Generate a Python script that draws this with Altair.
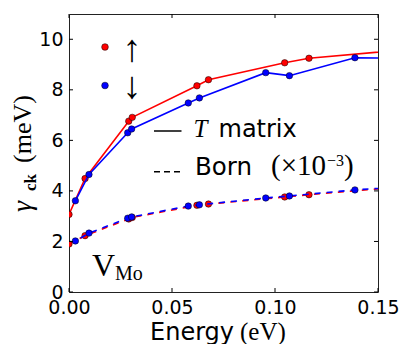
import altair as alt
import pandas as pd

# ---- data ----
energy_up = [0.0, 0.0078, 0.0290, 0.0307, 0.0621, 0.0677, 0.1047, 0.1165, 0.165]
gamma_t_up = [3.07, 4.49, 6.76, 6.91, 8.16, 8.40, 9.07, 9.25, 9.60]
gamma_born_up = [1.90, 2.23, 2.89, 2.95, 3.43, 3.48, 3.76, 3.85, 4.18]

energy_dn = [0.0031, 0.0097, 0.0285, 0.0304, 0.0579, 0.0633, 0.0955, 0.1070, 0.1388, 0.160]
gamma_t_dn = [3.61, 4.65, 6.30, 6.45, 7.48, 7.68, 8.68, 8.56, 9.27, 9.25]
gamma_born_dn = [2.02, 2.33, 2.92, 2.97, 3.40, 3.45, 3.72, 3.80, 4.04, 4.15]

x_ticks = [0.0, 0.05, 0.10, 0.15]
y_ticks = [0, 2, 4, 6, 8, 10]

W, H = 309, 278
RED = "#ff0000"
BLUE = "#0000ff"
SERIF = "Liberation Serif"
SANS = "DejaVu Sans"

up = pd.DataFrame({"E": energy_up, "T": gamma_t_up, "B": gamma_born_up})
dn = pd.DataFrame({"E": energy_dn, "T": gamma_t_dn, "B": gamma_born_dn})

xs = alt.Scale(domain=[0, 0.15], nice=False, zero=False)
ys = alt.Scale(domain=[0, 11], nice=False, zero=False)

xax = alt.Axis(values=x_ticks, format=".2f", title=None, grid=False, domain=False,
               ticks=False, labelFontSize=19, labelFont=SANS, labelColor="black",
               labelPadding=6, labelFlush=False)
yax = alt.Axis(values=y_ticks, format="d", title=None, grid=False, domain=False,
               ticks=False, labelFontSize=19, labelFont=SANS, labelColor="black",
               labelPadding=6)

X = lambda f: alt.X(f, type="quantitative", scale=xs, axis=xax)
Y = lambda f: alt.Y(f, type="quantitative", scale=ys, axis=yax)


def series(df, col, color, dash=None, offset=0):
    kw = {}
    if dash:
        kw["strokeDash"] = dash
        kw["strokeDashOffset"] = offset
    line = alt.Chart(df).mark_line(color=color, strokeWidth=1.6, clip=True, **kw).encode(
        x=X("E"), y=Y(col))
    pts = alt.Chart(df).mark_point(filled=True, fill=color, stroke="black", strokeWidth=0.5,
                                   size=42, opacity=1, clip=True).encode(x=X("E"), y=Y(col))
    return [line, pts]


def txt(s, x, y, size, font=SERIF, **kw):
    params = dict(align="left", baseline="alphabetic", fontSize=size, font=font, color="black")
    params.update(kw)
    return alt.Chart(pd.DataFrame({"t": [s]})).mark_text(**params).encode(
        x=alt.value(x), y=alt.value(y), text="t:N")


def dot(color, x, y):
    return alt.Chart(pd.DataFrame({"t": [0]})).mark_point(
        filled=True, fill=color, stroke="black", strokeWidth=0.5, size=45, opacity=1
    ).encode(x=alt.value(x), y=alt.value(y))


layers = []
layers += series(up, "T", RED)
layers += series(dn, "T", BLUE)
layers += series(up, "B", RED, dash=[6, 6], offset=0)
layers += series(dn, "B", BLUE, dash=[6, 6], offset=6)

# inward ticks on all four sides
xt = pd.DataFrame({"v": x_ticks})
yt = pd.DataFrame({"v": y_ticks})
tk = dict(color="black", strokeWidth=1)
layers.append(alt.Chart(xt).mark_rule(**tk).encode(x=X("v"), y=alt.value(H), y2=alt.value(H - 4)))
layers.append(alt.Chart(xt).mark_rule(**tk).encode(x=X("v"), y=alt.value(0), y2=alt.value(4)))
layers.append(alt.Chart(yt).mark_rule(**tk).encode(y=Y("v"), x=alt.value(0), x2=alt.value(4)))
layers.append(alt.Chart(yt).mark_rule(**tk).encode(y=Y("v"), x=alt.value(W - 4), x2=alt.value(W)))

# legend (in-plot)
layers.append(dot(RED, 36, 33))
layers.append(dot(BLUE, 36, 71.5))
layers.append(txt("↑", 62.7, 36, 38, align="center", baseline="middle"))
layers.append(txt("↓", 62.7, 73, 38, align="center", baseline="middle"))
layers.append(alt.Chart(pd.DataFrame({"t": [0]})).mark_rule(color="black", strokeWidth=1.5).encode(
    x=alt.value(85), x2=alt.value(112.5), y=alt.value(117)))
layers.append(alt.Chart(pd.DataFrame({"t": [0]})).mark_rule(color="black", strokeWidth=1.5,
                                                          strokeDash=[6, 4]).encode(
    x=alt.value(85), x2=alt.value(111), y=alt.value(157.7)))
layers.append(txt("T", 124.5, 122.5, 25, fontStyle="italic"))
layers.append(txt("matrix", 149.5, 122.5, 24, font=SANS))
layers.append(txt("Born", 126, 161, 24.5, font=SANS))
layers.append(txt("(×10", 202, 161, 29))
layers.append(txt("−3", 258, 152, 16))
layers.append(txt(")", 275, 161, 29))

# V_Mo label
layers.append(txt("V", 23, 262, 32))
layers.append(txt("Mo", 46, 266, 20))

# axis titles
layers.append(txt("Energy", 81, 325.5, 24, font=SANS))
layers.append(txt("(eV)", 171, 325.5, 25))
layers.append(txt("γ", -38, 198, 28, angle=270, fontStyle="italic"))
layers.append(txt("ck", -33, 177, 17, fontWeight="bold", angle=270))
layers.append(txt("(meV)", -38, 149, 26, angle=270))

chart = alt.layer(*layers).properties(
    width=W, height=H,
    autosize=alt.AutoSizeParams(type="none"),
    padding={"left": 61, "top": 6, "right": 21, "bottom": 52},
).configure_view(stroke="#222", strokeWidth=1)

chart.save("out.html", embed_options={"renderer": "svg", "actions": False})
